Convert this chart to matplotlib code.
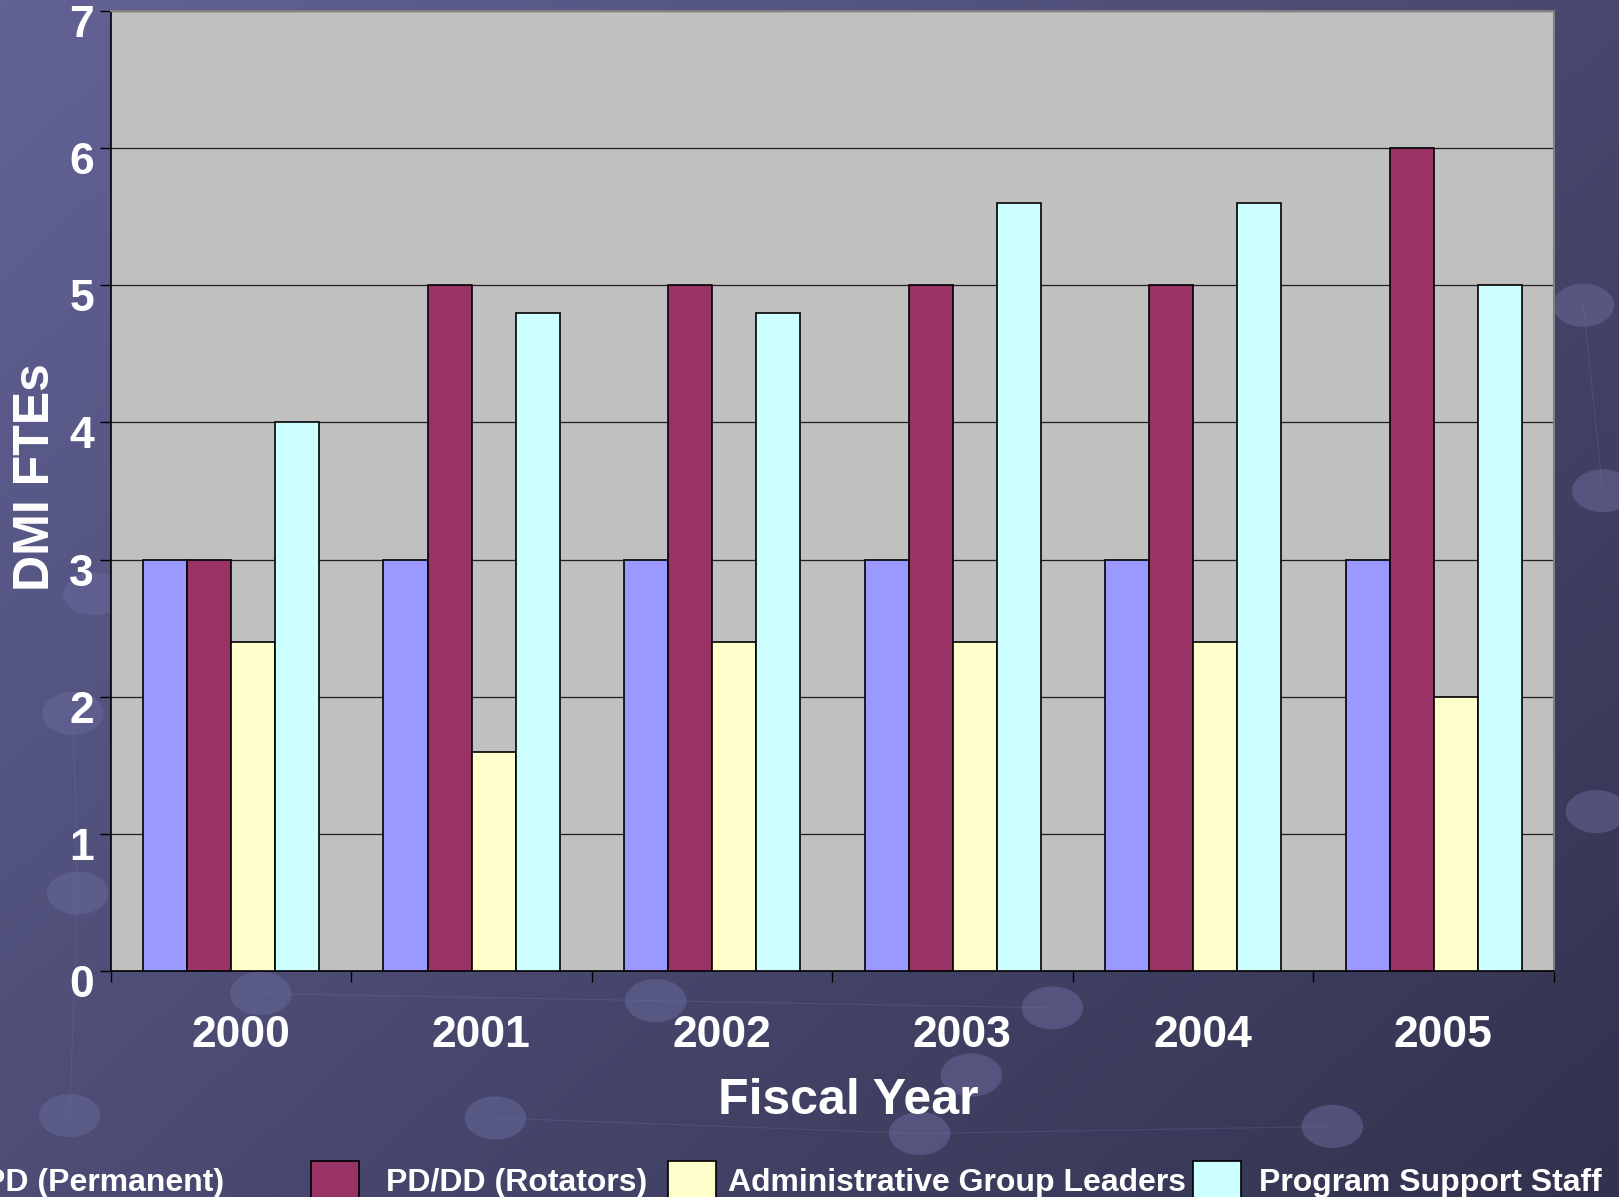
import numpy as np
import matplotlib
matplotlib.use("Agg")
import matplotlib.pyplot as plt
from matplotlib.patches import Ellipse, Patch
from matplotlib.transforms import ScaledTranslation

# ---- data -------------------------------------------------------------
years = ["2000", "2001", "2002", "2003", "2004", "2005"]
series_names = ["PD (Permanent)", "PD/DD (Rotators)",
                "Administrative Group Leaders", "Program Support Staff"]
pd_permanent = [3, 3, 3, 3, 3, 3]
pd_rotators = [3, 5, 5, 5, 5, 6]
admin_leaders = [2.4, 1.6, 2.4, 2.4, 2.4, 2.0]
support_staff = [4, 4.8, 4.8, 5.6, 5.6, 5]
y_ticks = [0, 1, 2, 3, 4, 5, 6, 7]

series_values = [pd_permanent, pd_rotators, admin_leaders, support_staff]
series_colors = ["#9999FF", "#993366", "#FFFFCC", "#CCFFFF"]

plt.rcParams["font.family"] = ["Liberation Sans", "DejaVu Sans"]
plt.rcParams["font.weight"] = "bold"

W, H, DPI = 1619, 1197, 100
fig = plt.figure(figsize=(W / DPI, H / DPI), dpi=DPI)

# ---- slide background: diagonal blue-violet gradient with soft dots ----
bg = fig.add_axes([0, 0, 1, 1], zorder=-10)
bg.set_axis_off()
gx, gy = np.meshgrid(np.linspace(0, 1, 400), np.linspace(0, 1, 300))
t = np.clip(0.55 * gx + 0.45 * gy, 0, 1)
top_left = np.array([98, 98, 150]) / 255
bottom_right = np.array([50, 50, 78]) / 255
img = top_left[None, None, :] * (1 - t[..., None]) + bottom_right[None, None, :] * t[..., None]
bg.imshow(img, extent=[0, 1, 1, 0], aspect="auto")
bg.set_xlim(0, 1)
bg.set_ylim(1, 0)

dots = [(0.161, 0.830), (0.405, 0.836), (0.650, 0.842), (0.306, 0.934),
        (0.568, 0.947), (0.823, 0.941), (0.043, 0.932), (0.048, 0.746),
        (0.045, 0.596), (0.058, 0.496), (0.978, 0.255), (0.990, 0.410),
        (0.986, 0.678), (0.600, 0.898)]
links = [(0, 1), (1, 2), (3, 4), (4, 5), (6, 7), (7, 8), (10, 11)]
for a, b in links:
    (x0, y0), (x1, y1) = dots[a], dots[b]
    bg.plot([x0, x1], [y0, y1], color="#7070a0", lw=0.8, alpha=0.3)
for x, y in dots:
    bg.add_patch(Ellipse((x, y), 0.038, 0.036, facecolor="#6a6a9c",
                         edgecolor="none", alpha=0.5))

# ---- chart --------------------------------------------------------------
ax = fig.add_axes([0.0684, 0.1888, 0.8914, 0.8020])
ax.set_facecolor("#C0C0C0")

n = len(years)
bar_w = 0.183
centers = np.arange(n) + 0.5
for k, (vals, col) in enumerate(zip(series_values, series_colors)):
    ax.bar(centers + (k - 1.5) * bar_w, vals, width=bar_w, color=col,
           edgecolor="black", linewidth=1.2, zorder=3, label=series_names[k])

ax.set_xlim(0, n)
ax.set_ylim(0, 7)
ax.set_yticks(y_ticks)
ax.set_yticklabels([str(v) for v in y_ticks])
ax.yaxis.grid(True, color="#202020", linewidth=0.9, zorder=1)
ax.set_axisbelow(True)

ax.set_xticks(np.arange(n + 1))
ax.set_xticklabels([])
ax.set_xticks(centers, minor=True)
ax.set_xticklabels(years, minor=True)
ax.tick_params(axis="x", which="major", direction="out", length=8,
               width=1.0, color="black")
ax.tick_params(axis="x", which="minor", length=0, pad=32, labelsize=32,
               labelcolor="white")
ax.tick_params(axis="y", direction="out", length=8, width=1.0,
               color="black", pad=4, labelsize=32, labelcolor="white")
yshift = ScaledTranslation(0, -10 / DPI, fig.dpi_scale_trans)
for lab in ax.get_yticklabels():
    lab.set_transform(lab.get_transform() + yshift)
xshift = ScaledTranslation(9.5 / DPI, 0, fig.dpi_scale_trans)
for lab in ax.get_xticklabels(minor=True):
    lab.set_transform(lab.get_transform() + xshift)

for side in ("left", "bottom"):
    ax.spines[side].set_color("black")
    ax.spines[side].set_linewidth(1.2)
for side in ("top", "right"):
    ax.spines[side].set_color("#808080")
    ax.spines[side].set_linewidth(1.5)

ax.set_xlabel("Fiscal Year", fontsize=36, color="white", fontweight="bold",
              va="center")
ax.xaxis.set_label_coords(0.511, -0.135)
ax.set_ylabel("DMI FTEs", fontsize=36, color="white", fontweight="bold",
              va="center", ha="center")
ax.yaxis.set_label_coords(-0.0517, 0.5146)

# ---- legend along the bottom edge: one entry per block ----------------
# (left edge of swatch in px, gap between swatch and text in font units)
entry_layout = [(-89, 0.80), (311, 0.84), (668, 0.38), (1193, 0.56)]
for name, col, (x_px, pad) in zip(series_names, series_colors, entry_layout):
    leg = fig.legend([Patch(facecolor=col, edgecolor="black", linewidth=1.2)],
                     [name], loc="center left",
                     bbox_to_anchor=(x_px / W, 17 / H), frameon=False,
                     fontsize=23, handlelength=1.5, handleheight=1.45,
                     handletextpad=pad, borderpad=0, borderaxespad=0)
    for txt in leg.get_texts():
        txt.set_color("white")
        txt.set_fontweight("bold")

fig.savefig("out.png", dpi=DPI)
